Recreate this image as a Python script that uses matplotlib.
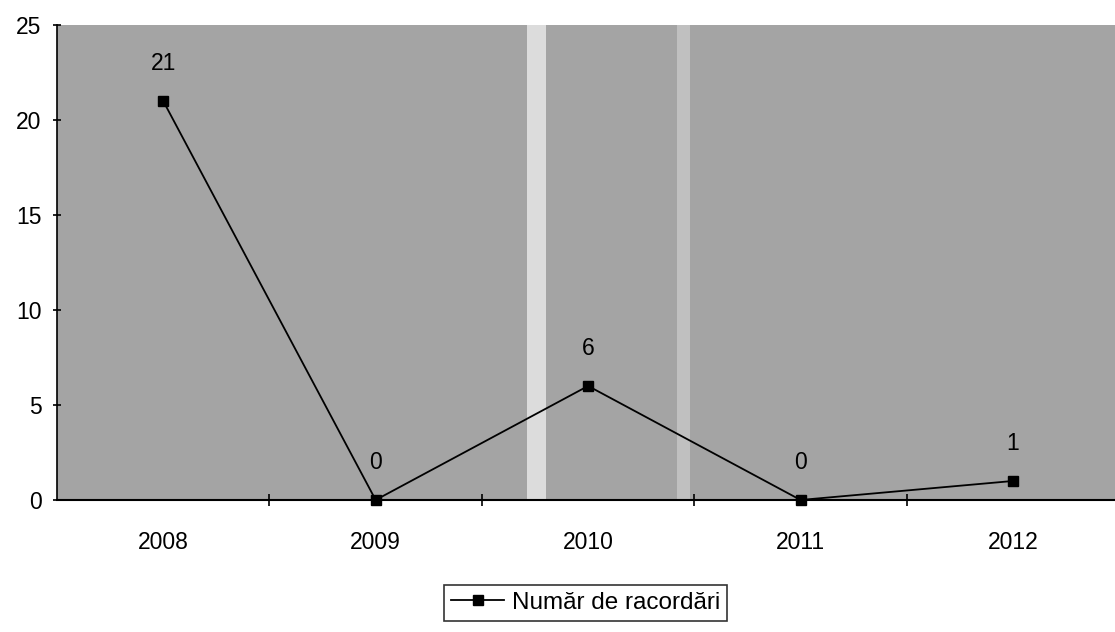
import matplotlib.pyplot as plt
from matplotlib.ticker import FixedLocator

plt.rcParams["font.family"] = ["Liberation Sans", "DejaVu Sans"]

years = ["2008", "2009", "2010", "2011", "2012"]
connections = [21, 0, 6, 0, 1]
series_label = "Număr de racordări"

figure = plt.figure(figsize=(11.15, 6.32), dpi=100)
axis = figure.add_axes([0.0511, 0.2089, 0.9489, 0.7516])

axis.set_facecolor("#a4a4a4")
# lighter vertical streaks from the scanned original
axis.axvspan(1.71, 1.80, color="#dcdcdc", zorder=0, lw=0)
axis.axvspan(2.42, 2.48, color="#c0c0c0", zorder=0, lw=0)

positions = list(range(len(years)))
line, = axis.plot(
    positions, connections,
    color="black", lw=1.3,
    marker="s", markersize=7.5, markerfacecolor="black", markeredgecolor="black",
    label=series_label, zorder=3, clip_on=False,
)

for x, value in zip(positions, connections):
    axis.annotate(
        str(value), xy=(x, value), xytext=(0, 27), textcoords="offset points",
        ha="center", va="center", fontsize=16.5,
    )

axis.set_xlim(-0.5, len(years) - 0.52)
axis.set_ylim(0, 25)
axis.set_yticks([0, 5, 10, 15, 20, 25])
axis.set_xticks(positions)
axis.set_xticklabels(years)
axis.xaxis.set_minor_locator(FixedLocator([p + 0.5 for p in positions[:-1]]))

axis.tick_params(axis="x", which="major", length=0, pad=22, labelsize=16.5)
axis.tick_params(axis="x", which="minor", length=8, width=1.2, direction="inout")
axis.tick_params(axis="y", which="major", length=6, width=1.2, direction="inout", labelsize=16.5, pad=8)

for side in ["top", "right"]:
    axis.spines[side].set_visible(False)
axis.spines["left"].set_linewidth(1.2)
axis.spines["bottom"].set_linewidth(1.5)

legend = figure.legend(
    handles=[line], loc="center", bbox_to_anchor=(0.525, 0.046),
    fontsize=17.5, frameon=True, fancybox=False, edgecolor="black",
    handlelength=2.2, borderpad=0.3, handletextpad=0.3,
)
legend.get_frame().set_linewidth(1.2)

figure.savefig("out.png", dpi=100)
